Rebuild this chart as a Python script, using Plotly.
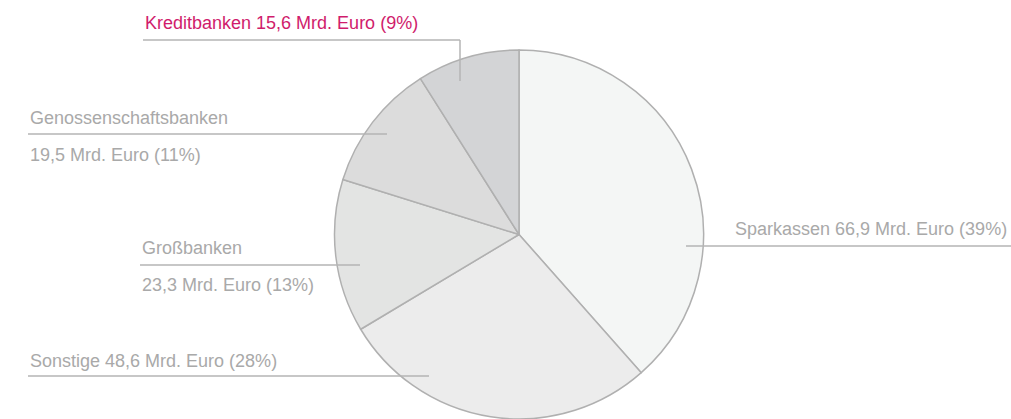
import plotly.graph_objects as go

# Daten (Mrd. Euro)
labels = ["Sparkassen", "Sonstige", "Großbanken", "Genossenschaftsbanken", "Kreditbanken"]
values = [66.9, 48.6, 23.3, 19.5, 15.6]
shares = ["39%", "28%", "13%", "11%", "9%"]
colors = ["#f4f6f5", "#ececec", "#e3e4e3", "#dcdcdc", "#d3d4d6"]

W, H = 1011, 419
GREY = "#a9a9a9"
LINE = "#b4b4b4"
MAGENTA = "#d01c6c"
FONT = "Liberation Sans, Arial, sans-serif"


def px(x):
    return x / W


def py(y):
    return 1 - y / H


def euro(v):
    return f"{v:.1f}".replace(".", ",") + " Mrd. Euro"


fig = go.Figure()
fig.add_trace(go.Pie(
    labels=labels, values=values, sort=False, direction="clockwise", rotation=0,
    marker=dict(colors=colors, line=dict(color="#b0b0b0", width=1.5)),
    textinfo="none", hoverinfo="label+value+percent", showlegend=False,
    domain=dict(x=[px(334), px(704)], y=[py(419), py(50)]),
))

# Beschriftungen: (text, x, y, anchor, farbe)
texts = [
    (f"Kreditbanken {euro(values[4])} ({shares[4]})", 143, 23, "left", MAGENTA),
    ("Genossenschaftsbanken", 28, 118, "left", GREY),
    (f"{euro(values[3])} ({shares[3]})", 28, 155, "left", GREY),
    ("Großbanken", 140, 248, "left", GREY),
    (f"{euro(values[2])} ({shares[2]})", 140, 285, "left", GREY),
    (f"Sonstige {euro(values[1])} ({shares[1]})", 28, 361, "left", GREY),
    (f"Sparkassen {euro(values[0])} ({shares[0]})", 1009, 229, "right", GREY),
]
for t, x, y, anc, col in texts:
    fig.add_annotation(text=t, x=px(x), y=py(y), xref="paper", yref="paper",
                       xanchor=anc, yanchor="middle", showarrow=False,
                       font=dict(size=18, color=col, family=FONT))

# Führungslinien
leaders = [
    [(143, 40), (460, 40), (460, 81)],
    [(28, 134), (387, 134)],
    [(140, 265), (360, 265)],
    [(28, 376), (429, 376)],
    [(686, 246), (1011, 246)],
]
for pts in leaders:
    for (x0, y0), (x1, y1) in zip(pts[:-1], pts[1:]):
        fig.add_shape(type="line", xref="paper", yref="paper",
                      x0=px(x0), y0=py(y0), x1=px(x1), y1=py(y1),
                      line=dict(color=LINE, width=1.5))

fig.update_layout(
    width=W, height=H, margin=dict(l=0, r=0, t=0, b=0),
    paper_bgcolor="white", plot_bgcolor="white",
)
fig.write_html("out.html", config={"displayModeBar": False},
               post_script="document.body.style.margin='0';")
